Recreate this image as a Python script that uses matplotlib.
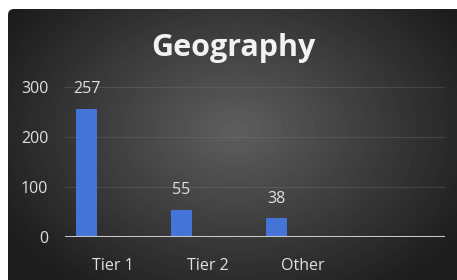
import numpy as np
import matplotlib.pyplot as plt
from matplotlib.patches import FancyBboxPatch

categories = ["Tier 1", "Tier 2", "Other"]
values = [257, 55, 38]
n_slots = 4  # the chart keeps an empty fourth slot on the right
yticks = [0, 100, 200, 300]

plt.rcParams['font.family'] = ['Open Sans', 'DejaVu Sans']

fig = plt.figure(figsize=(4.57, 2.8), dpi=100)
fig.patch.set_facecolor('white')

# dark panel with radial gradient
bg = fig.add_axes([0, 0, 1, 1])
bg.set_xlim(0, 457)
bg.set_ylim(280, 0)
bg.axis('off')
yy, xx = np.mgrid[0:280, 0:457]
r = np.sqrt(((xx - 235) / 260.0) ** 2 + ((yy - 130) / 190.0) ** 2)
shade = np.clip(0.37 - 0.25 * r, 0.11, 0.37)
img = bg.imshow(shade, cmap='gray', vmin=0, vmax=1, extent=(0, 457, 280, 0),
                aspect='auto', interpolation='bilinear')
panel = FancyBboxPatch((8, 9), 460, 290, boxstyle="round,pad=0,rounding_size=6",
                       transform=bg.transData, facecolor='none', edgecolor='none')
bg.add_patch(panel)
img.set_clip_path(panel)

ax = fig.add_axes([65 / 457, 1 - 237 / 280, 380 / 457, 150 / 280])
ax.set_facecolor('none')
x = np.arange(len(categories))
bars = ax.bar(x - 0.274, values, width=0.22, color='#4474d8', zorder=3)
for b, v in zip(bars, values):
    ax.annotate(str(v), (b.get_x() + b.get_width() / 2, v), xytext=(0, 8),
                textcoords='offset points', ha='center', va='bottom',
                color='#e0e0e0', fontsize=11.5)

ax.set_xlim(-0.5, n_slots - 0.5)
ax.set_ylim(0, 300)
ax.set_xticks(x)
ax.set_xticklabels(categories)
ax.set_yticks(yticks)
ax.tick_params(axis='x', length=0, pad=15, colors='#e0e0e0', labelsize=11.5)
ax.tick_params(axis='y', length=0, pad=12, colors='#e0e0e0', labelsize=11.5)
ax.grid(axis='y', color='#7a7a7a', alpha=0.3, lw=0.8, zorder=0)
ax.axhline(0, color='#c8c8c8', lw=2.2, zorder=4)
for s in ax.spines.values():
    s.set_visible(False)

fig.text(233 / 457, 1 - 48 / 280, "Geography", ha='center', va='center',
         fontsize=22, fontweight='bold', color='#f2f2f2')

fig.savefig('out.png', dpi=100)
